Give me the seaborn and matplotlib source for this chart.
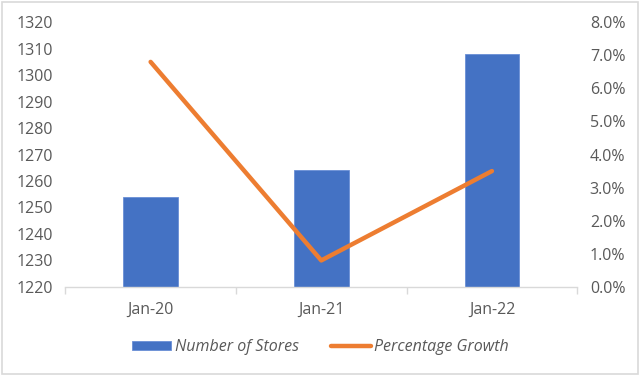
import matplotlib
matplotlib.use("Agg")
import matplotlib.pyplot as plt
import seaborn as sns
import pandas as pd
from matplotlib.ticker import PercentFormatter, FixedLocator
from matplotlib.patches import Patch, Rectangle
from matplotlib.lines import Line2D

sns.set_theme(style="white")
plt.rcParams['font.family'] = ['Open Sans', 'DejaVu Sans']

# Data
months = ['Jan-20', 'Jan-21', 'Jan-22']
stores = [1254, 1264, 1308]
growth_pct = [6.8, 0.8, 3.5]

bar_color = '#4472C4'
line_color = '#ED7D31'
text_color = '#595959'

df = pd.DataFrame({'Month': months, 'Stores': stores, 'Growth': growth_pct})

fig = plt.figure(figsize=(6.4, 3.76), dpi=100)
ax = fig.add_axes([0.102, 0.237, 0.8, 0.704])

sns.barplot(data=df, x='Month', y='Stores', color=bar_color, width=0.32,
            saturation=1, ax=ax, edgecolor='#6a8fd6', linewidth=0.6)
ax.set_ylim(1220, 1320)
ax.set_yticks(range(1220, 1321, 10))
ax.set_xlim(-0.5, 2.5)
ax.set_xlabel('')
ax.set_ylabel('')

ax2 = ax.twinx()
sns.lineplot(data=df, x='Month', y='Growth', color=line_color, linewidth=3.2,
             ax=ax2, sort=False, solid_capstyle='round')
ax2.set_ylim(0, 8)
ax2.set_yticks(range(0, 9))
ax2.yaxis.set_major_formatter(PercentFormatter(xmax=100, decimals=1))
ax2.set_ylabel('')

for a in (ax, ax2):
    for s in a.spines.values():
        s.set_visible(False)
    a.tick_params(axis='y', length=0, labelsize=11.5, labelcolor=text_color, pad=9)
ax.spines['bottom'].set_visible(True)
ax.spines['bottom'].set_color('#d9d9d9')
ax.spines['bottom'].set_linewidth(1)

# category tick marks sit between the bars, like Excel
ax.tick_params(axis='x', which='major', length=0, labelsize=11.5,
               labelcolor=text_color, pad=11)
ax.xaxis.set_minor_locator(FixedLocator([-0.5, 0.5, 1.5, 2.5]))
ax.tick_params(axis='x', which='minor', length=5, color='#d9d9d9', width=1,
               bottom=True)

handles = [Patch(facecolor=bar_color, edgecolor='#6a8fd6', linewidth=0.6),
           Line2D([0], [0], color=line_color, linewidth=3.2)]
leg = fig.legend(handles, ['Number of Stores', 'Percentage Growth'],
                 loc='center', bbox_to_anchor=(0.5, 0.077), ncol=2,
                 frameon=False, handlelength=2.5, handleheight=0.5,
                 columnspacing=2.0, handletextpad=0.2,
                 prop={'style': 'italic', 'size': 11.5})
for t in leg.get_texts():
    t.set_color(text_color)

fig.patches.append(Rectangle((0.003, 0.004), 0.994, 0.99, transform=fig.transFigure,
                             fill=False, edgecolor='#d9d9d9', linewidth=1.2))

fig.savefig('out.png', dpi=100)
